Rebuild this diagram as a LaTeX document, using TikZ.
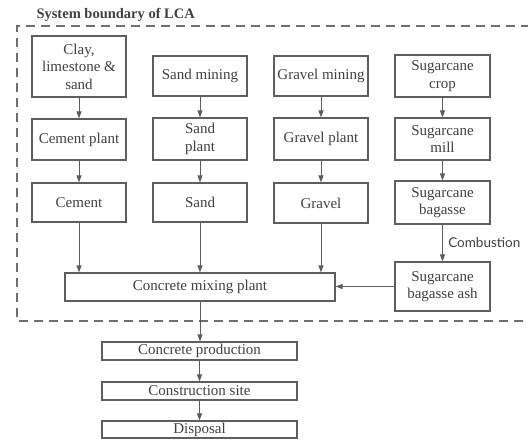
\documentclass[tikz,border=0pt]{standalone}
\usepackage{fontspec}
\setmainfont{Liberation Serif}
\newfontfamily\labelfont{Lato}
\usetikzlibrary{arrows.meta}
\definecolor{lc}{HTML}{5E5E5E}
\definecolor{tc}{HTML}{404040}
\tikzset{
  pbox/.style={draw=lc, line width=1.1pt, text=tc, align=center, inner sep=0pt,
    font=\fontsize{15}{17.5}\selectfont},
  flow/.style={draw=lc, line width=0.9pt, -{Triangle[width=5pt,length=7pt]}},
  boundary/.style={draw=lc!90, line width=1.4pt, dash pattern=on 9pt off 6pt},
}
\begin{document}
\begin{tikzpicture}[x=1pt,y=-1pt]
\useasboundingbox (0,0) rectangle (528,441);
% boundary
\draw[boundary] (545,26) -- (17,26) -- (17,321) -- (545,321);
\node[anchor=west, text=tc, font=\bfseries\fontsize{14.5}{16}\selectfont] (title) at (33,14.5) {System boundary of LCA};
% column 1
\node[pbox, minimum width=94pt, minimum height=61pt] (clay) at (79,66.5) {Clay,\\limestone \&\\sand};
\node[pbox, minimum width=94pt, minimum height=41pt] (cplant) at (79,139.5) {Cement plant};
\node[pbox, minimum width=94pt, minimum height=39pt] (cement) at (79,202.5) {Cement};
% column 2
\node[pbox, minimum width=94pt, minimum height=40pt] (sandmin) at (200,76) {Sand mining};
\node[pbox, minimum width=94pt, minimum height=42pt] (sandplant) at (200,139) {Sand\\plant};
\node[pbox, minimum width=94pt, minimum height=39pt] (sand) at (200,202.5) {Sand};
% column 3
\node[pbox, minimum width=94pt, minimum height=40pt] (gravmin) at (321,76) {Gravel mining};
\node[pbox, minimum width=94pt, minimum height=42pt] (gravplant) at (321,139) {Gravel plant};
\node[pbox, minimum width=94pt, minimum height=40pt] (gravel) at (321,203) {Gravel};
% column 4
\node[pbox, minimum width=95pt, minimum height=42pt] (crop) at (442.5,76) {Sugarcane\\crop};
\node[pbox, minimum width=95pt, minimum height=42pt] (mill) at (442.5,139) {Sugarcane\\mill};
\node[pbox, minimum width=95pt, minimum height=43pt] (bagasse) at (442.5,202.5) {Sugarcane\\bagasse};
\node[pbox, minimum width=95pt, minimum height=49pt] (ash) at (442.5,286.5) {Sugarcane\\bagasse ash};
% mixing
\node[pbox, minimum width=270pt, minimum height=28pt] (mix) at (200,287) {Concrete mixing plant};
% lower chain
\node[pbox, minimum width=195pt, minimum height=18pt] (prod) at (199.5,351) {Concrete production};
\node[pbox, minimum width=195pt, minimum height=18pt] (site) at (199.5,391) {Construction site};
\node[pbox, minimum width=195pt, minimum height=17pt] (disp) at (199.5,429.5) {Disposal};
% arrows
\draw[flow] (clay) -- (cplant);
\draw[flow] (cplant) -- (cement);
\draw[flow] (sandmin) -- (sandplant);
\draw[flow] (sandplant) -- (sand);
\draw[flow] (gravmin) -- (gravplant);
\draw[flow] (gravplant) -- (gravel);
\draw[flow] (crop) -- (mill);
\draw[flow] (mill) -- (bagasse);
\draw[flow] (bagasse) -- node[right=2pt, text=tc, font=\labelfont\fontsize{13.5}{15}\selectfont] (comb) {Combustion} (ash);
\draw[flow] (cement.south) -- (cement.south |- mix.north);
\draw[flow] (sand.south) -- (sand.south |- mix.north);
\draw[flow] (gravel.south) -- (gravel.south |- mix.north);
\draw[flow] (ash.west) -- (ash.west -| mix.east);
\draw[flow] (mix.south) -- (mix.south |- prod.north);
\draw[flow] (prod) -- (site);
\draw[flow] (site) -- (disp);
\end{tikzpicture}
\end{document}
